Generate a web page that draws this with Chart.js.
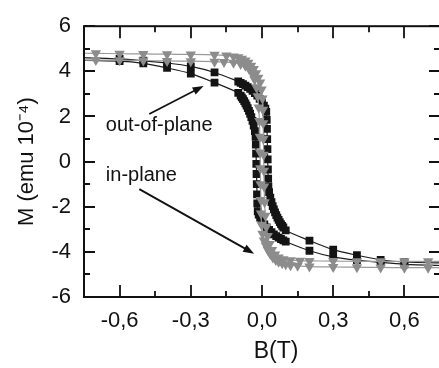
<!DOCTYPE html>
<html>
<head>
<meta charset="utf-8">
<script src="https://cdn.jsdelivr.net/npm/chart.js@4"></script>
<style>
  html, body { margin: 0; padding: 0; background: #fff; overflow: hidden; }
  #wrap { width: 446px; height: 368px; }
</style>
</head>
<body>
<div id="wrap"><canvas id="loops" width="446" height="368"></canvas></div>
<script>
// Hysteresis loops, field B in tesla, moment M in 1e-4 emu.
// Each loop is split into the branch that switches at positive field ("Right")
// and the one that switches at negative field ("Left").

// out-of-plane (black squares)
const outRightB = [-0.8, -0.6, -0.5, -0.4, -0.3, -0.2, -0.1, -0.09, -0.08, -0.07, -0.06, -0.05, -0.04, -0.03, -0.02, -0.01,
  0.0, 0.008, 0.014, 0.018, 0.02, 0.021, 0.022, 0.023, 0.024, 0.025, 0.026, 0.027,
  0.03, 0.035, 0.04, 0.045, 0.05, 0.055, 0.06, 0.065, 0.07, 0.075, 0.08, 0.085, 0.09, 0.1, 0.2, 0.3, 0.4, 0.5, 0.6, 0.8];
const outRightM = [4.62, 4.55, 4.47, 4.37, 4.22, 3.95, 3.55, 3.49, 3.43, 3.37, 3.3, 3.22, 3.13, 3.03, 2.92, 2.78,
  2.62, 2.48, 2.35, 2.2, 1.85, 1.45, 1.0, 0.55, 0.1, -0.35, -0.75, -1.1,
  -1.35, -1.6, -1.8, -1.97, -2.12, -2.25, -2.37, -2.48, -2.58, -2.68, -2.77, -2.85, -2.92, -3.05, -3.5, -3.9, -4.15, -4.35, -4.45, -4.5];

const outLeftB = [-0.8, -0.6, -0.5, -0.4, -0.3, -0.2, -0.1, -0.09, -0.085, -0.08, -0.075, -0.07, -0.065, -0.06, -0.055, -0.05,
  -0.045, -0.04, -0.035, -0.03, -0.027, -0.026, -0.025, -0.024, -0.023, -0.022, -0.021, -0.02,
  -0.018, -0.014, -0.008, 0.0, 0.01, 0.02, 0.03, 0.04, 0.05, 0.06, 0.07, 0.08, 0.09, 0.1, 0.2, 0.3, 0.4, 0.5, 0.6, 0.8];
const outLeftM = [4.5, 4.45, 4.35, 4.15, 3.9, 3.5, 3.05, 2.92, 2.85, 2.77, 2.68, 2.58, 2.48, 2.37, 2.25, 2.12,
  1.97, 1.8, 1.6, 1.35, 1.1, 0.75, 0.35, -0.1, -0.55, -1.0, -1.45, -1.85,
  -2.2, -2.35, -2.48, -2.62, -2.78, -2.92, -3.03, -3.13, -3.22, -3.3, -3.37, -3.43, -3.49, -3.55, -3.95, -4.22, -4.37, -4.47, -4.55, -4.62];

// in-plane (grey triangles)
const inRightB = [-0.8, -0.7, -0.6, -0.5, -0.4, -0.3, -0.2, -0.15, -0.12, -0.1, -0.085, -0.07, -0.058, -0.046, -0.035, -0.025,
  -0.016, -0.008, -0.002, 0.002, 0.004, 0.005, 0.006, 0.007, 0.008, 0.009, 0.011, 0.014, 0.018,
  0.024, 0.032, 0.042, 0.055, 0.07, 0.09, 0.12, 0.16, 0.2, 0.3, 0.4, 0.5, 0.6, 0.7, 0.8];
const inRightM = [4.8, 4.8, 4.78, 4.77, 4.76, 4.75, 4.73, 4.7, 4.66, 4.62, 4.56, 4.48, 4.38, 4.25, 4.1, 3.92,
  3.72, 3.5, 3.2, 2.8, 2.3, 1.7, 1.0, 0.3, -0.4, -1.1, -1.8, -2.4, -2.9,
  -3.3, -3.65, -3.92, -4.12, -4.25, -4.33, -4.37, -4.39, -4.4, -4.41, -4.42, -4.42, -4.42, -4.42, -4.42];

const inLeftB = [-0.8, -0.7, -0.6, -0.5, -0.4, -0.3, -0.2, -0.16, -0.12, -0.09, -0.07, -0.055, -0.042, -0.032, -0.024, -0.018,
  -0.014, -0.011, -0.009, -0.008, -0.007, -0.006, -0.005, -0.004, -0.002, 0.002, 0.008, 0.016, 0.025,
  0.035, 0.046, 0.058, 0.07, 0.085, 0.1, 0.12, 0.15, 0.2, 0.3, 0.4, 0.5, 0.6, 0.7, 0.8];
const inLeftM = [4.5, 4.5, 4.49, 4.48, 4.46, 4.45, 4.43, 4.41, 4.38, 4.33, 4.25, 4.12, 3.92, 3.65, 3.3, 2.9,
  2.4, 1.8, 1.1, 0.4, -0.3, -1.0, -1.7, -2.3, -2.8, -3.2, -3.5, -3.72, -3.92,
  -4.1, -4.25, -4.36, -4.44, -4.5, -4.55, -4.59, -4.62, -4.65, -4.67, -4.68, -4.69, -4.7, -4.7, -4.7];

// axes
const xTickValues = [-0.6, -0.3, 0, 0.3, 0.6];
const xTickLabels = ['-0,6', '-0,3', '0,0', '0,3', '0,6'];
const xMinorValues = [-0.45, -0.15, 0.15, 0.45];
const yTickValues = [-6, -4, -2, 0, 2, 4, 6];
const yMinorValues = [-5, -3, -1, 1, 3, 5];

// labels with arrows, in data units
const notes = [
  { text: 'out-of-plane', x: -0.658, y: 1.35, from: [-0.475, 2.11], to: [-0.246, 3.35] },
  { text: 'in-plane', x: -0.658, y: -0.85, from: [-0.517, -1.22], to: [-0.033, -4.08] }
];

const FONT = '"Liberation Sans", Arial, Helvetica, sans-serif';
const INK = '#111';

const toPoints = (bs, ms) => bs.map((b, i) => ({ x: b, y: ms[i] }));

function loopBranch(bs, ms, grey) {
  return {
    data: toPoints(bs, ms),
    showLine: true,
    tension: 0.3,
    borderWidth: 1.2,
    borderColor: grey ? '#9a9a9a' : '#1c1c1c',
    pointStyle: grey ? 'triangle' : 'rect',
    pointRotation: grey ? 180 : 0,
    pointRadius: grey ? 6 : 5.5,
    pointBorderWidth: 0,
    pointBackgroundColor: grey ? '#8c8c8c' : '#141414'
  };
}

// frame with inward ticks on all four sides, plus the annotations
const framePlugin = {
  id: 'frame',
  afterDraw(chart) {
    const { ctx, chartArea: a, scales: { x, y } } = chart;
    ctx.save();
    ctx.strokeStyle = INK;
    ctx.lineWidth = 2;
    ctx.strokeRect(a.left, a.top, a.right - a.left, a.bottom - a.top);

    ctx.lineWidth = 1.8;
    const xTicks = (vals, len) => vals.forEach(v => {
      const px = Math.round(x.getPixelForValue(v));
      ctx.beginPath();
      ctx.moveTo(px, a.bottom); ctx.lineTo(px, a.bottom - len);
      ctx.moveTo(px, a.top); ctx.lineTo(px, a.top + len);
      ctx.stroke();
    });
    const yTicks = (vals, len) => vals.forEach(v => {
      const py = Math.round(y.getPixelForValue(v));
      ctx.beginPath();
      ctx.moveTo(a.left, py); ctx.lineTo(a.left + len, py);
      ctx.moveTo(a.right, py); ctx.lineTo(a.right - len, py);
      ctx.stroke();
    });
    xTicks(xTickValues, 12);
    xTicks(xMinorValues, 6);
    yTicks(yTickValues, 11);
    yTicks(yMinorValues, 6);

    // annotations
    ctx.fillStyle = INK;
    ctx.font = '20px ' + FONT;
    ctx.textBaseline = 'alphabetic';
    ctx.textAlign = 'left';
    notes.forEach(n => {
      ctx.fillText(n.text, x.getPixelForValue(n.x), y.getPixelForValue(n.y));
      const x0 = x.getPixelForValue(n.from[0]), y0 = y.getPixelForValue(n.from[1]);
      const x1 = x.getPixelForValue(n.to[0]), y1 = y.getPixelForValue(n.to[1]);
      const ang = Math.atan2(y1 - y0, x1 - x0);
      const head = 11, half = 4;
      ctx.lineWidth = 1.8;
      ctx.beginPath();
      ctx.moveTo(x0, y0);
      ctx.lineTo(x1 - Math.cos(ang) * head * 0.8, y1 - Math.sin(ang) * head * 0.8);
      ctx.stroke();
      ctx.beginPath();
      ctx.moveTo(x1, y1);
      ctx.lineTo(x1 - Math.cos(ang) * head - Math.sin(ang) * half, y1 - Math.sin(ang) * head + Math.cos(ang) * half);
      ctx.lineTo(x1 - Math.cos(ang) * head + Math.sin(ang) * half, y1 - Math.sin(ang) * head - Math.cos(ang) * half);
      ctx.closePath();
      ctx.fill();
    });

    // x axis title
    ctx.font = '23px ' + FONT;
    ctx.textAlign = 'center';
    ctx.fillText('B(T)', (a.left + a.right) / 2 + 14, 358);
    ctx.restore();
  }
};

new Chart(document.getElementById('loops'), {
  type: 'scatter',
  data: {
    datasets: [
      loopBranch(inRightB, inRightM, true),
      loopBranch(inLeftB, inLeftM, true),
      loopBranch(outRightB, outRightM, false),
      loopBranch(outLeftB, outLeftM, false)
    ]
  },
  options: {
    responsive: false,
    animation: false,
    events: [],
    layout: { padding: { top: 16, right: 2, left: 0, bottom: 0 } },
    plugins: { legend: { display: false }, tooltip: { enabled: false } },
    scales: {
      x: {
        type: 'linear',
        position: 'bottom',
        min: -0.75,
        max: 0.75,
        afterBuildTicks: s => { s.ticks = xTickValues.map(v => ({ value: v })); },
        afterFit: s => { s.height = 71; },
        grid: { display: false, drawTicks: false },
        border: { display: false },
        ticks: {
          autoSkip: false,
          maxRotation: 0,
          padding: 11,
          color: INK,
          font: { family: FONT, size: 22 },
          callback: (v, i) => xTickLabels[i]
        }
      },
      y: {
        type: 'linear',
        min: -6,
        max: 6,
        afterBuildTicks: s => { s.ticks = yTickValues.map(v => ({ value: v })); },
        afterFit: s => { s.width = 84; },
        grid: { display: false, drawTicks: false },
        border: { display: false },
        ticks: {
          padding: 13,
          color: INK,
          font: { family: FONT, size: 22 },
          callback: v => String(v)
        },
        title: {
          display: true,
          text: 'M (emu 10\u207B\u2074)',
          color: INK,
          font: { family: FONT, size: 22 },
          padding: { top: 14, bottom: 0 }
        }
      }
    }
  },
  plugins: [framePlugin]
});
</script>
</body>
</html>
